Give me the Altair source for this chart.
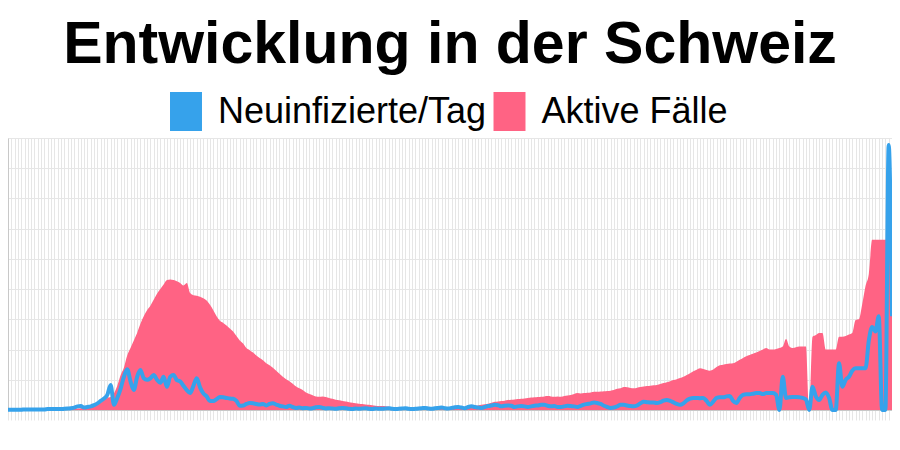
import altair as alt
import pandas as pd

title_text = "Entwicklung in der Schweiz"
series_names = ["Neuinfizierte/Tag", "Aktive Fälle"]
series_colors = ["#36A2EB", "#FF6384"]

# Aktive Fälle (in Tausend), ein Wert pro Tag
aktive = [
    0, 0, 0, 0, 0.01, 0.01, 0.01, 0.01, 0.02, 0.02,
    0.02, 0.02, 0.02, 0.03, 0.03, 0.03, 0.03, 0.04, 0.04, 0.04,
    0.05, 0.05, 0.06, 0.08, 0.1, 0.12, 0.15, 0.19, 0.24, 0.32,
    0.4, 0.43, 0.55, 0.8, 1.15, 1.4, 1.8, 2.05, 2.3, 2.55,
    2.85, 3.1, 3.3, 3.45, 3.65, 3.85, 4.0, 4.15, 4.3, 4.32,
    4.3, 4.26, 4.2, 4.12, 4.2, 3.87, 3.8, 3.78, 3.75, 3.7,
    3.62, 3.48, 3.3, 3.1, 2.95, 2.88, 2.8, 2.7, 2.6, 2.45,
    2.3, 2.2, 2.05, 1.98, 1.9, 1.8, 1.72, 1.65, 1.55, 1.48,
    1.4, 1.3, 1.2, 1.1, 1.02, 0.95, 0.87, 0.78, 0.72, 0.66,
    0.58, 0.53, 0.49, 0.45, 0.44, 0.45, 0.43, 0.4, 0.37, 0.34,
    0.32, 0.3, 0.28, 0.26, 0.24, 0.22, 0.21, 0.2, 0.18, 0.17,
    0.16, 0.14, 0.13, 0.13, 0.12, 0.11, 0.1, 0.1, 0.09, 0.09,
    0.08, 0.08, 0.08, 0.07, 0.07, 0.07, 0.07, 0.07, 0.07, 0.07,
    0.08, 0.08, 0.08, 0.09, 0.09, 0.09, 0.1, 0.1, 0.11, 0.12,
    0.13, 0.14, 0.15, 0.17, 0.19, 0.21, 0.24, 0.27, 0.28, 0.3,
    0.31, 0.33, 0.34, 0.35, 0.36, 0.37, 0.38, 0.4, 0.41, 0.42,
    0.43, 0.44, 0.45, 0.46, 0.45, 0.44, 0.45, 0.44, 0.46, 0.48,
    0.5, 0.53, 0.56, 0.55, 0.56, 0.57, 0.58, 0.6, 0.6, 0.61,
    0.62, 0.63, 0.64, 0.66, 0.7, 0.72, 0.76, 0.75, 0.73, 0.72,
    0.74, 0.76, 0.78, 0.79, 0.8, 0.82, 0.83, 0.86, 0.89, 0.92,
    0.95, 0.99, 1.02, 1.06, 1.1, 1.16, 1.22, 1.28, 1.33, 1.38,
    1.36, 1.32, 1.3, 1.34, 1.42, 1.48, 1.5, 1.52, 1.54, 1.55,
    1.6, 1.66, 1.72, 1.78, 1.82, 1.86, 1.9, 1.95, 2.0, 2.05,
    2.0, 2.0, 2.02, 2.05, 2.1, 2.35, 2.1, 2.05, 2.08, 2.1,
    2.1, 2.1, 0, 2.42, 2.48, 2.55, 2.55, 2.0, 2.0, 2.0,
    2.0, 2.42, 2.42, 2.45, 2.5, 2.55, 2.98, 3.0, 3.5, 4.1,
    4.5, 5.63, 5.63, 5.63, 5.63, 5.63, 5.63, 5.63,
]

# Neuinfizierte pro Tag (in Tausend)
neu = [
    0.01, 0.01, 0.01, 0.01, 0.01, 0.02, 0.02, 0.02, 0.02, 0.02,
    0.02, 0.02, 0.03, 0.03, 0.03, 0.03, 0.03, 0.04, 0.05, 0.06,
    0.08, 0.12, 0.13, 0.08, 0.1, 0.12, 0.16, 0.22, 0.3, 0.38,
    0.5, 0.83, 0.17, 0.4, 0.7, 1.1, 1.35, 0.95, 0.66, 1.1,
    1.32, 1.05, 1.0, 1.05, 1.16, 1.0, 0.9, 1.1, 0.77, 1.1,
    1.16, 0.99, 0.95, 0.8, 0.66, 0.56, 0.8, 1.05, 0.75, 0.55,
    0.45, 0.3, 0.3, 0.36, 0.43, 0.42, 0.4, 0.38, 0.37, 0.3,
    0.14, 0.15, 0.2, 0.23, 0.22, 0.2, 0.18, 0.2, 0.15, 0.2,
    0.22, 0.18, 0.14, 0.12, 0.1, 0.14, 0.1, 0.07, 0.08, 0.06,
    0.07, 0.05, 0.06, 0.09, 0.1, 0.07, 0.05, 0.06, 0.05, 0.04,
    0.06, 0.07, 0.06, 0.04, 0.03, 0.05, 0.04, 0.05, 0.06, 0.04,
    0.03, 0.05, 0.04, 0.04, 0.05, 0.06, 0.04, 0.03, 0.04, 0.05,
    0.06, 0.04, 0.03, 0.04, 0.05, 0.06, 0.07, 0.05, 0.04, 0.06,
    0.07, 0.08, 0.06, 0.05, 0.07, 0.09, 0.1, 0.08, 0.06, 0.1,
    0.12, 0.1, 0.08, 0.07, 0.1, 0.13, 0.15, 0.17, 0.16, 0.12,
    0.14, 0.15, 0.14, 0.1, 0.12, 0.13, 0.12, 0.1, 0.12, 0.14,
    0.15, 0.17, 0.17, 0.14, 0.12, 0.13, 0.1, 0.1, 0.12, 0.14,
    0.13, 0.12, 0.1, 0.14, 0.18, 0.2, 0.22, 0.25, 0.23, 0.2,
    0.14, 0.1, 0.07, 0.08, 0.12, 0.17, 0.17, 0.15, 0.13, 0.12,
    0.15, 0.22, 0.27, 0.26, 0.25, 0.25, 0.23, 0.26, 0.31, 0.33,
    0.3, 0.25, 0.2, 0.17, 0.22, 0.32, 0.38, 0.4, 0.4, 0.39,
    0.4, 0.3, 0.17, 0.28, 0.4, 0.42, 0.42, 0.45, 0.46, 0.3,
    0.23, 0.4, 0.5, 0.52, 0.52, 0.54, 0.56, 0.56, 0.53, 0.56,
    0.56, 0.56, 0.5, 0, 1.1, 0.4, 0.42, 0.43, 0.43, 0.42,
    0.4, 0.35, 0, 0.77, 0.45, 0.33, 0.5, 0.58, 0.4, 0,
    0, 1.55, 0.77, 1.0, 1.1, 1.3, 1.38, 1.38, 1.38, 1.38,
    2.3, 2.75, 2.6, 3.1, 0, 0, 8.77, 3.1,
]

y_ticks = [0, 1, 2, 3, 4, 5, 6, 7, 8, 9]

n = min(len(aktive), len(neu))
days = list(range(n))

df_aktive = pd.DataFrame({"day": days, "value": aktive[:n], "series": series_names[1]})
df_neu = pd.DataFrame({"day": days, "value": neu[:n], "series": series_names[0]})

x_enc = alt.X(
    "day:Q",
    scale=alt.Scale(domain=[0, n - 1], nice=False, zero=False),
    axis=alt.Axis(values=days, labels=False, title=None, grid=True,
                  gridColor="#e6e6e6", gridWidth=1, tickSize=10,
                  tickColor="#e6e6e6", domainColor="#c8c8c8",
                  labelPadding=0, minExtent=0, maxExtent=10),
)
y_enc = alt.Y(
    "value:Q",
    scale=alt.Scale(domain=[y_ticks[0], y_ticks[-1]], nice=False),
    axis=alt.Axis(values=y_ticks, labels=False, title=None, ticks=False,
                  tickSize=0, labelPadding=0, minExtent=0, maxExtent=0,
                  grid=True, gridColor="#e6e6e6", domainColor="#c8c8c8"),
)

legend = alt.Legend(
    title=None,
    orient="none",
    legendX=158.5,
    legendY=-46,
    direction="horizontal",
    symbolType="M-0.82,-1H0.82V1H-0.82Z",
    symbolSize=1521,
    symbolStrokeWidth=0,
    symbolOpacity=1,
    labelFont="Liberation Sans",
    labelFontSize=36,
    labelColor="black",
    labelOffset=12.5,
    labelLimit=500,
    columnPadding=3.5,
    padding=0,
)

area = alt.Chart(df_aktive).mark_area(opacity=1, interpolate="monotone").encode(
    x=x_enc,
    y=y_enc,
    color=alt.Color("series:N", scale=alt.Scale(domain=series_names, range=series_colors), legend=legend),
)

line = alt.Chart(df_neu).mark_line(color=series_colors[0], strokeWidth=4, interpolate="monotone").encode(
    x=x_enc,
    y=y_enc,
)

chart = alt.layer(area, line).properties(
    width=884,
    height=272,
    autosize=alt.AutoSizeParams(type="none"),
    padding={"left": 0, "top": 130, "right": 0, "bottom": 12},
    title=alt.TitleParams(
        text=title_text,
        font="Liberation Sans",
        fontSize=59,
        fontWeight="bold",
        color="black",
        anchor="middle",
        offset=17,
    ),
).configure_view(strokeWidth=0)

chart.save("out.html", embed_options={"renderer": "svg", "actions": False})
